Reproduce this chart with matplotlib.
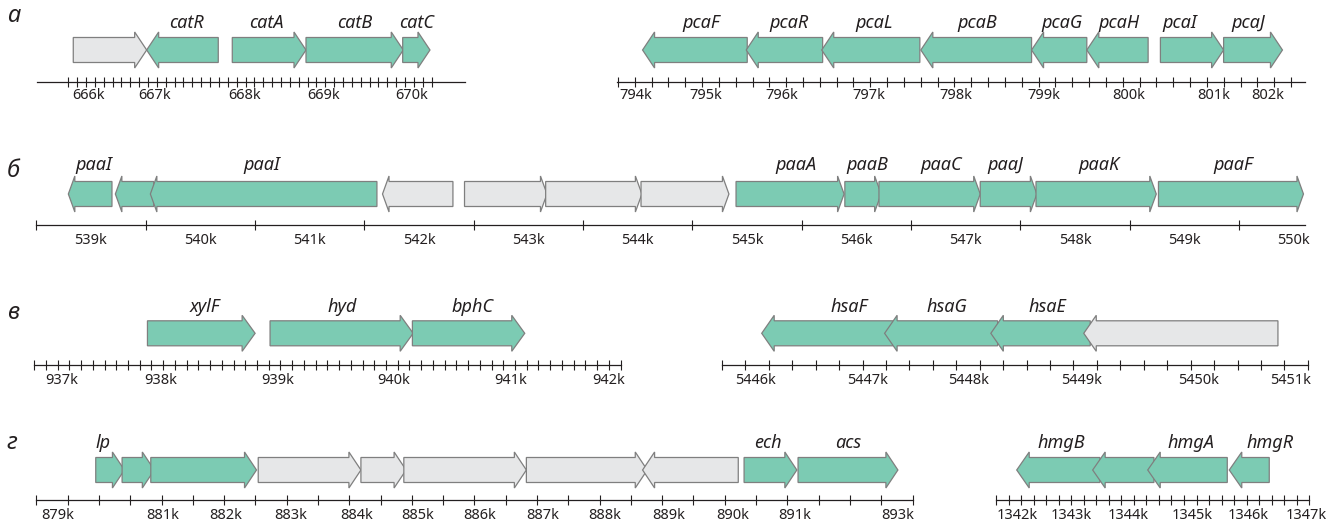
import numpy as np
import matplotlib.pyplot as plt
from matplotlib.patches import Polygon

plt.rcParams['font.family'] = ['Noto Sans', 'DejaVu Sans']

W, H = 1339, 529
GREEN = '#7ccbb3'
GREY = '#e6e7e8'
EDGE = '#7f7f7f'
INK = '#231f20'
BODY = 25    # arrow body height, px
HEAD = 36    # arrowhead height, px

# genes: (name, start kb, end kb, strand, cluster gene, label x kb)
CAT_GENES = [
    ("", 665.897, 666.798, 1, False, None),
    ("catR", 666.798, 667.677, -1, True, 667.289),
    ("catA", 667.849, 668.754, 1, True, 668.271),
    ("catB", 668.754, 669.948, 1, True, 669.355),
    ("catC", 669.941, 670.276, 1, True, 670.113),
]
CAT_TICKS = [666.081, 666.900, 668.005, 668.966, 670.052]
CAT_TICK_TEXT = ["666k", "667k", "668k", "669k", "670k"]
CAT_RANGE = (665.448, 670.706)
CAT_MINOR = np.linspace(665.835, 670.297, 42)

PCA_GENES = [
    ("pcaF", 794.181, 795.458, -1, True, 794.899),
    ("pcaR", 795.446, 796.378, -1, True, 795.964),
    ("pcaL", 796.367, 797.564, -1, True, 797.011),
    ("pcaB", 797.576, 798.927, -1, True, 798.266),
    ("pcaG", 798.927, 799.601, -1, True, 799.302),
    ("pcaH", 799.601, 800.349, -1, True, 799.993),
    ("pcaI", 800.499, 801.270, 1, True, 800.740),
    ("pcaJ", 801.270, 801.988, 1, True, 801.575),
]
PCA_TICKS = [794.094, 794.955, 795.878, 796.943, 798.005, 799.071, 800.107, 801.143, 801.805]
PCA_TICK_TEXT = ["794k", "795k", "796k", "797k", "798k", "799k", "800k", "801k", "802k"]
PCA_RANGE = (793.863, 802.263)
PCA_MINOR = np.linspace(793.880, 802.092, 41)

PAA_GENES = [
    ("paaI", 538.793, 539.192, -1, True, 539.027),
    ("", 539.223, 539.574, -1, True, None),
    ("paaI", 539.543, 541.615, -1, True, 540.559),
    ("", 541.666, 542.310, -1, False, None),
    ("", 542.416, 543.170, 1, False, None),
    ("", 543.158, 544.038, 1, False, None),
    ("", 544.030, 544.834, 1, False, None),
    ("paaA", 544.899, 545.887, 1, True, 545.446),
    ("paaB", 545.894, 546.226, 1, True, 546.097),
    ("paaC", 546.206, 547.132, 1, True, 546.772),
    ("paaJ", 547.132, 547.650, 1, True, 547.365),
    ("paaK", 547.642, 548.742, 1, True, 548.216),
    ("paaF", 548.762, 550.088, 1, True, 549.444),
]
PAA_TICKS = [539, 540, 541, 542, 543, 544, 545, 546, 547, 548, 549, 550]
PAA_TICK_TEXT = [f"{k}k" for k in PAA_TICKS]
PAA_RANGE = (538.5, 550.102)
PAA_MINOR = np.arange(538.5, 550.01, 0.5)

XYL_GENES = [
    ("xylF", 937.813, 938.779, 1, True, 938.330),
    ("hyd", 938.913, 940.197, 1, True, 939.558),
    ("bphC", 940.190, 941.198, 1, True, 940.727),
]
XYL_TICKS = [937.047, 937.929, 938.983, 940.018, 941.072, 941.954]
XYL_TICK_TEXT = ["937k", "938k", "939k", "940k", "941k", "942k"]
XYL_RANGE = (936.797, 942.057)
XYL_MINOR = np.linspace(936.797, 942.057, 51)

HSA_GENES = [
    ("hsaF", 5446.047, 5447.258, -1, True, 5446.856),
    ("hsaG", 5447.183, 5448.228, -1, True, 5447.763),
    ("hsaE", 5448.165, 5449.084, -1, True, 5448.690),
    ("", 5449.024, 5450.819, -1, False, None),
]
HSA_TICKS = [5445.988, 5447.021, 5447.959, 5449.005, 5450.089, 5450.937]
HSA_TICK_TEXT = ["5446k", "5447k", "5448k", "5449k", "5450k", "5451k"]
HSA_RANGE = (5445.680, 5451.095)
HSA_MINOR = np.linspace(5445.680, 5451.095, 26)

ECH_GENES = [
    ("lp", 879.934, 880.388, 1, True, 880.044),
    ("", 880.351, 880.861, 1, True, None),
    ("", 880.805, 882.478, 1, True, None),
    ("", 882.505, 884.130, 1, False, None),
    ("", 884.130, 884.845, 1, False, None),
    ("", 884.809, 886.748, 1, False, None),
    ("", 886.748, 888.661, 1, False, None),
    ("", 888.587, 890.101, -1, False, None),
    ("ech", 890.193, 891.028, 1, True, 890.565),
    ("acs", 891.047, 892.627, 1, True, 891.837),
]
ECH_TICKS = [879.329, 881.0, 881.994, 883.016, 884.065, 885.030, 886.014,
             887.008, 887.984, 889.005, 890.008, 891.0, 892.627]
ECH_TICK_TEXT = ["879k", "881k", "882k", "883k", "884k", "885k", "886k",
                 "887k", "888k", "889k", "890k", "891k", "893k"]
ECH_RANGE = (878.995, 892.858)
ECH_MINOR = np.linspace(878.995, 892.858, 29)

HMG_GENES = [
    ("hmgB", 1342.036, 1343.462, -1, True, 1342.806),
    ("", 1343.337, 1344.387, -1, True, None),
    ("hmgA", 1344.280, 1345.643, -1, True, 1345.016),
    ("hmgR", 1345.677, 1346.362, -1, True, 1346.374),
]
HMG_TICKS = [1342.036, 1342.978, 1343.947, 1345.033, 1346.003, 1347.003]
HMG_TICK_TEXT = ["1342k", "1343k", "1344k", "1345k", "1346k", "1347k"]
HMG_RANGE = (1341.681, 1347.048)
HMG_MINOR = np.linspace(1341.681, 1347.048, 26)

# row layout in pixels: band top/bottom, arrow centre, name baseline, axis line, label pad
ROWS = {
    "а": dict(top=0, bottom=112, gene_y=50, name_y=28.3, axis_y=81.7, pad=4.5, letter=(7, 22)),
    "б": dict(top=130, bottom=265, gene_y=194, name_y=170, axis_y=225, pad=5.5, letter=(7, 177)),
    "в": dict(top=280, bottom=400, gene_y=333.3, name_y=311.7, axis_y=365, pad=5.5, letter=(7, 319)),
    "г": dict(top=415, bottom=529, gene_y=470, name_y=448.3, axis_y=500, pad=5.5, letter=(7, 449)),
}

# (row, genes, range, minor ticks, label positions, label texts, x span px, head px)
PANELS = [
    ("а", CAT_GENES, CAT_RANGE, CAT_MINOR, CAT_TICKS, CAT_TICK_TEXT, (36.7, 465), 12),
    ("а", PCA_GENES, PCA_RANGE, PCA_MINOR, PCA_TICKS, PCA_TICK_TEXT, (616.5, 1305), 12),
    ("б", PAA_GENES, PAA_RANGE, PAA_MINOR, PAA_TICKS, PAA_TICK_TEXT, (36.3, 1305), 6.5),
    ("в", XYL_GENES, XYL_RANGE, XYL_MINOR, XYL_TICKS, XYL_TICK_TEXT, (34.2, 620.5), 13),
    ("в", HSA_GENES, HSA_RANGE, HSA_MINOR, HSA_TICKS, HSA_TICK_TEXT, (722, 1307.8), 12.5),
    ("г", ECH_GENES, ECH_RANGE, ECH_MINOR, ECH_TICKS, ECH_TICK_TEXT, (36.4, 912.5), 12),
    ("г", HMG_GENES, HMG_RANGE, HMG_MINOR, HMG_TICKS, HMG_TICK_TEXT, (996, 1309.3), 12.5),
]


def gene_arrow(start, end, strand, y, head):
    h = min(head, end - start)
    b0, b1 = y - BODY / 2, y + BODY / 2
    h0, h1 = y - HEAD / 2, y + HEAD / 2
    if strand > 0:
        return [(start, b0), (end - h, b0), (end - h, h0), (end, y),
                (end - h, h1), (end - h, b1), (start, b1)]
    return [(end, b0), (start + h, b0), (start + h, h0), (start, y),
            (start + h, h1), (start + h, b1), (end, b1)]


fig = plt.figure(figsize=(W / 100, H / 100), dpi=100)

for row, genes, xr, minor, tpos, ttext, (px0, px1), head_px in PANELS:
    r = ROWS[row]
    ax = fig.add_axes([px0 / W, 1 - r["bottom"] / H, (px1 - px0) / W,
                       (r["bottom"] - r["top"]) / H])
    ax.set_xlim(*xr)
    ax.set_ylim(r["bottom"], r["top"])
    ax.patch.set_visible(False)
    for side in ("top", "left", "right"):
        ax.spines[side].set_visible(False)
    ax.spines["bottom"].set_position(("data", r["axis_y"]))
    ax.spines["bottom"].set_color(INK)
    ax.spines["bottom"].set_linewidth(0.9)
    ax.set_yticks([])
    ax.set_xticks(minor, minor=True)
    ax.set_xticks(tpos, ttext)
    ax.tick_params(axis="x", which="minor", direction="inout", length=6.5,
                   width=0.8, color=INK)
    ax.tick_params(axis="x", which="major", length=0, pad=r["pad"],
                   labelsize=10.5, labelcolor=INK)

    head = head_px * (xr[1] - xr[0]) / (px1 - px0)
    for name, start, end, strand, known, lx in genes:
        poly = Polygon(gene_arrow(start, end, strand, r["gene_y"], head),
                       closed=True, facecolor=GREEN if known else GREY,
                       edgecolor=EDGE, linewidth=0.9, clip_on=False)
        ax.add_patch(poly)
        if name:
            ax.text(lx, r["name_y"], name, ha="center", va="baseline",
                    fontsize=13, style="italic", color=INK)

for row, r in ROWS.items():
    lx, ly = r["letter"]
    fig.text(lx / W, 1 - ly / H, row, fontsize=17, style="italic",
             color=INK, ha="left", va="baseline")

fig.savefig("out.png", dpi=100)
